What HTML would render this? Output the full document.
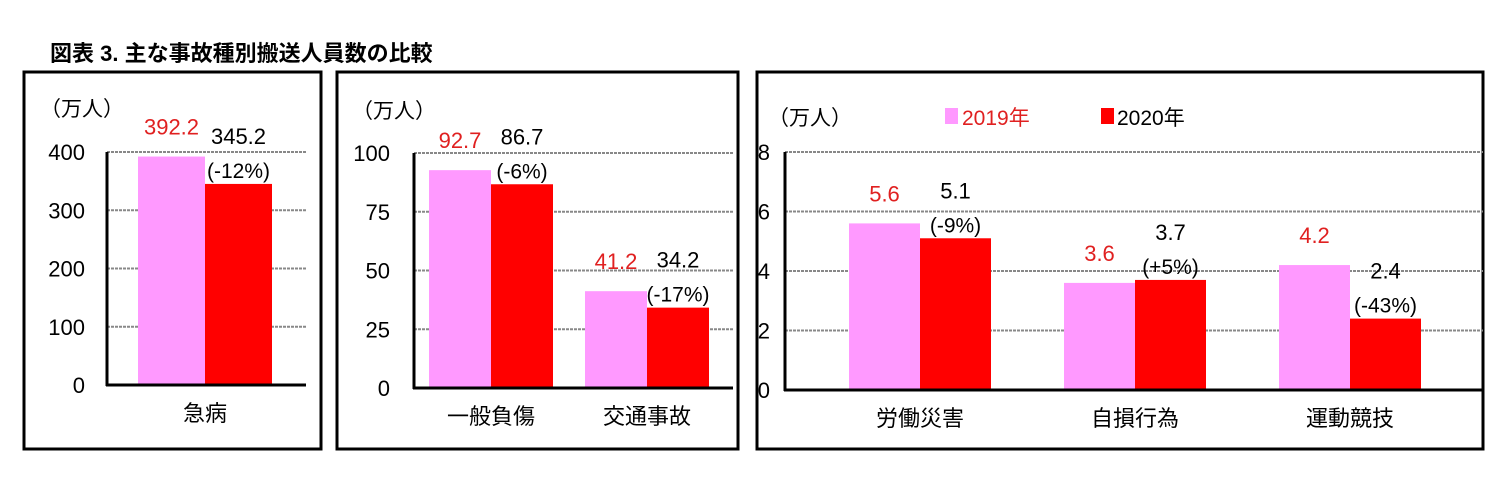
<!DOCTYPE html>
<html><head><meta charset="utf-8"><style>
body{margin:0;background:#fff;}
svg{display:block;font-family:"Liberation Sans","Noto Sans CJK JP",sans-serif;}
</style></head><body>
<svg id="c" width="1501" height="501">
<text x="50" y="61" font-size="22" font-weight="bold">図表 3.  主な事故種別搬送人員数の比較</text>
<g id="g"></g>
</svg>
<script>
const panel1Categories = ["急病"];
const panel1Values2019 = [392.2];
const panel1Values2020 = [345.2];
const panel1Changes = ["(-12%)"];
const panel1Ticks = [0,100,200,300,400];
const panel2Categories = ["一般負傷","交通事故"];
const panel2Values2019 = [92.7,41.2];
const panel2Values2020 = [86.7,34.2];
const panel2Changes = ["(-6%)","(-17%)"];
const panel2Ticks = [0,25,50,75,100];
const panel3Categories = ["労働災害","自損行為","運動競技"];
const panel3Values2019 = [5.6,3.6,4.2];
const panel3Values2020 = [5.1,3.7,2.4];
const panel3Changes = ["(-9%)","(+5%)","(-43%)"];
const panel3Ticks = [0,2,4,6,8];

const NS="http://www.w3.org/2000/svg";
const G=document.getElementById('g');
function el(t,a,txt){const e=document.createElementNS(NS,t);for(const k in a)e.setAttribute(k,a[k]);if(txt!==undefined)e.textContent=txt;G.appendChild(e);return e;}

const panels=[
 {box:[24,72,297,377],ax:107,right:306,y0:385,yTop:152,max:400,cats:panel1Categories,v1:panel1Values2019,v2:panel1Values2020,ch:panel1Changes,ticks:panel1Ticks,start:138,bw:67,step:0,tickX:85,unitX:40,unitY:116},
 {box:[337,72,401,377],ax:414,right:733,y0:388,yTop:153,max:100,cats:panel2Categories,v1:panel2Values2019,v2:panel2Values2020,ch:panel2Changes,ticks:panel2Ticks,start:429,bw:62,step:156,tickX:390,unitX:352,unitY:118},
 {box:[757,72,726,377],ax:785,right:1483,y0:390,yTop:152,max:8,cats:panel3Categories,v1:panel3Values2019,v2:panel3Values2020,ch:panel3Changes,ticks:panel3Ticks,start:849,bw:71,step:215,tickX:770,unitX:768,unitY:125}
];
panels.forEach((p,pi)=>{
 let b=el('rect',{x:p.box[0],y:p.box[1],width:p.box[2],height:p.box[3],fill:'none',stroke:'#000','stroke-width':3});
 
 
 const ys=v=>p.y0-(p.y0-p.yTop)*v/p.max;
 let u=el('text',{x:p.unitX,y:p.unitY,'font-size':21},'（万人）');
 
 
 p.ticks.forEach(t=>{
  if(t>0){let l=el('line',{x1:p.ax,x2:p.right,y1:ys(t),y2:ys(t),stroke:'#888','stroke-width':2,'stroke-dasharray':'3 1'});
  
  }
  let tx=el('text',{x:p.tickX,y:ys(t)+8,'font-size':22,'text-anchor':'end'},t);
  
  
 });
 p.cats.forEach((c,i)=>{
  const x1=p.start+i*p.step, x2=x1+p.bw;
  const t1=ys(p.v1[i]), t2=ys(p.v2[i]);
  let r1=el('rect',{x:x1,y:t1,width:p.bw,height:p.y0-t1,fill:'#ff99ff'});
  
  
  let r2=el('rect',{x:x2,y:t2,width:p.bw,height:p.y0-t2,fill:'#ff0000'});
  
  
  let l1=el('text',{x:x1+p.bw/2,y:t1-22,'font-size':22,fill:'#e02020','text-anchor':'middle'},p.v1[i].toFixed(1));
  
  
  let l2=el('text',{x:x2+p.bw/2,y:t2-40,'font-size':22,'text-anchor':'middle'},p.v2[i].toFixed(1));
  
  
  let l3=el('text',{x:x2+p.bw/2,y:t2-6,'font-size':21,'text-anchor':'middle'},p.ch[i]);
  
  
  let cl=el('text',{x:x2,y:p.y0+36,'font-size':22,'text-anchor':'middle'},c);
  
  
 });
 let ya=el('line',{x1:p.ax,x2:p.ax,y1:p.yTop,y2:p.y0+1,stroke:'#000','stroke-width':3});
 
 
 let xa=el('line',{x1:p.ax-1,x2:p.right,y1:p.y0,y2:p.y0,stroke:'#000','stroke-width':3});
 
 
});
let s1=el('rect',{x:945,y:108,width:13,height:16,fill:'#ff99ff'});


let t1=el('text',{x:962,y:125,'font-size':21,fill:'#e02020'},'2019年');


let s2=el('rect',{x:1101,y:108,width:13,height:16,fill:'#ff0000'});


let t2=el('text',{x:1117,y:125,'font-size':21},'2020年');


</script>
</body></html>
